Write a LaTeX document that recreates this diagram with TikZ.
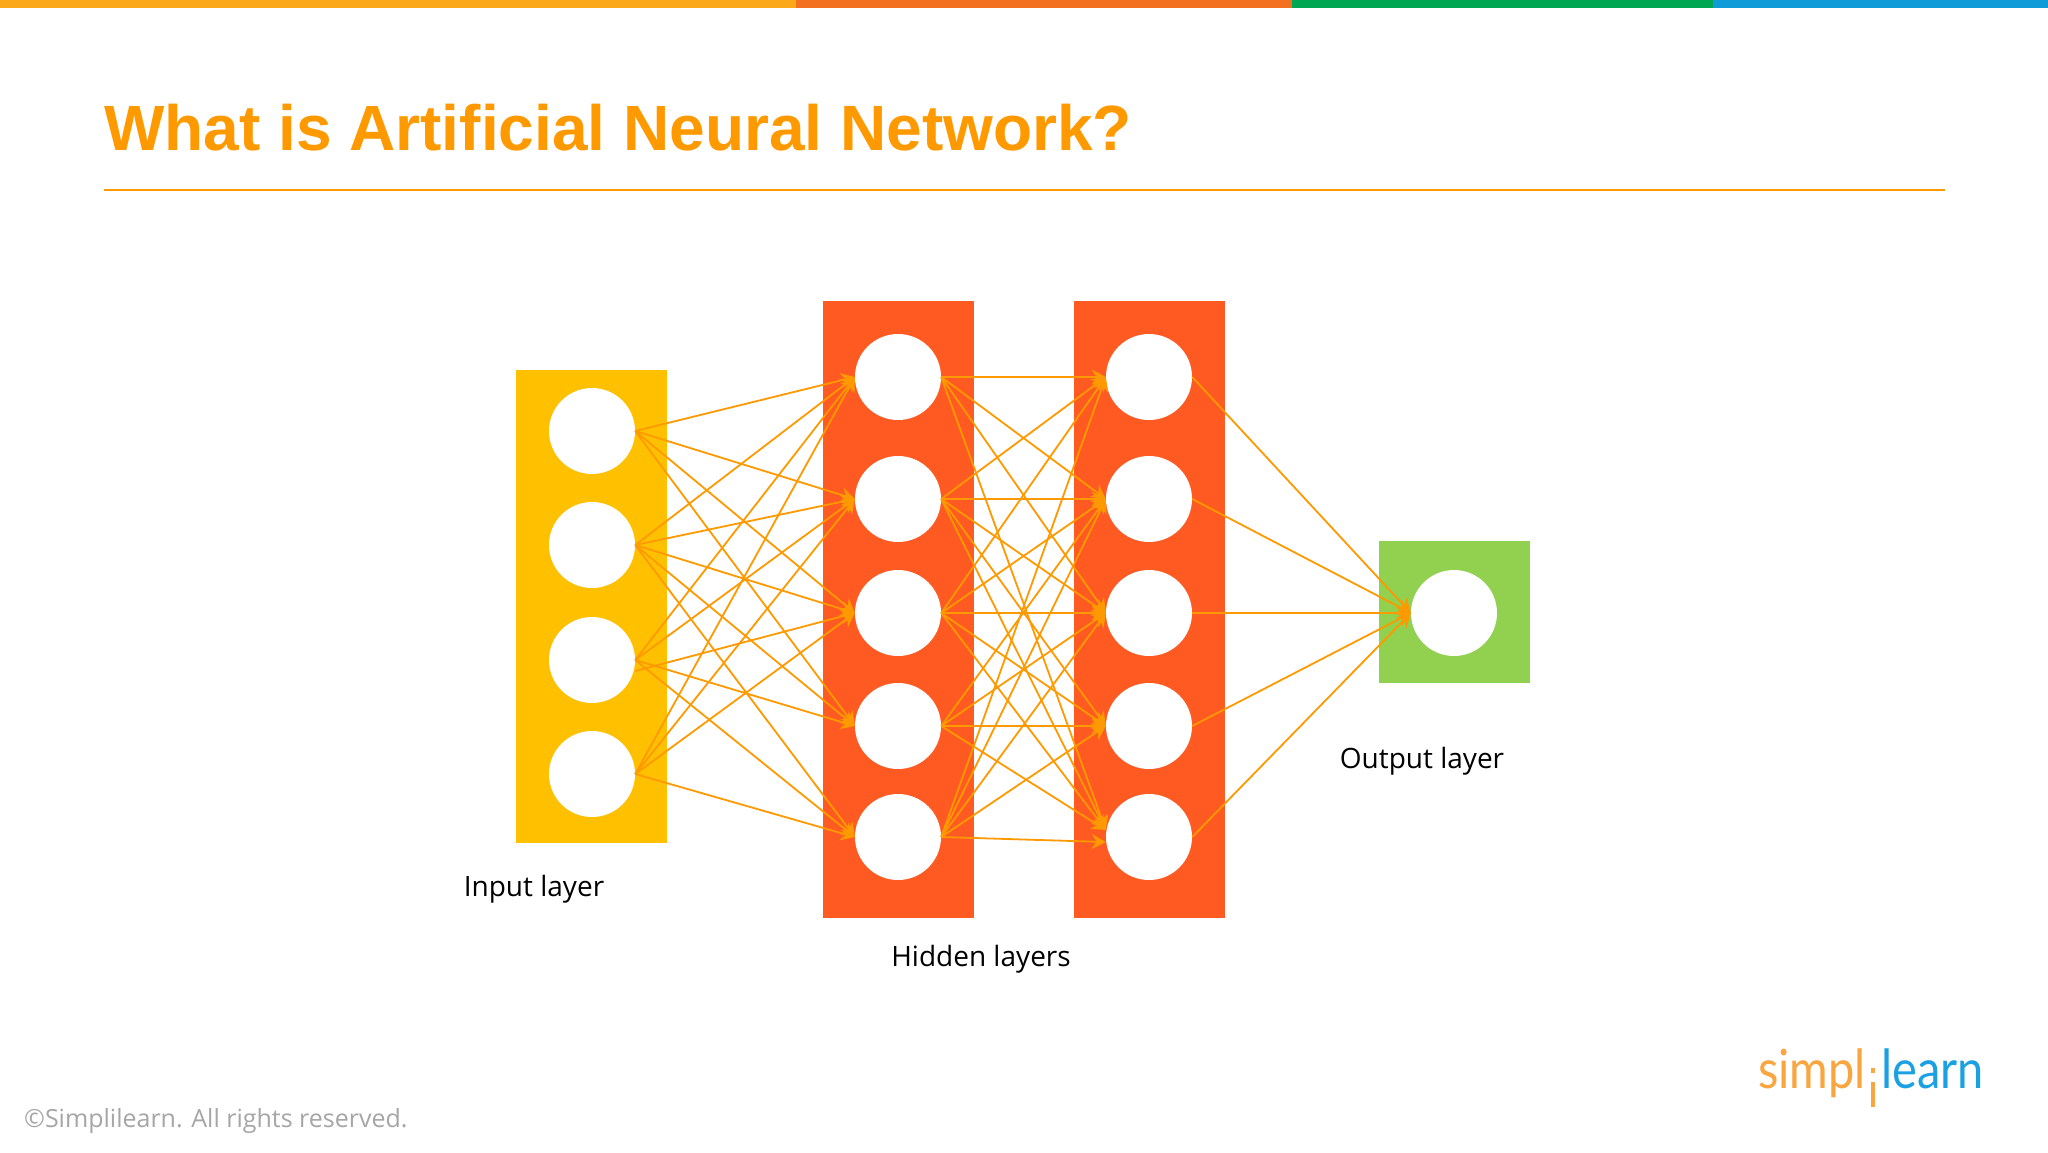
\documentclass[tikz,border=0pt]{standalone}
\usepackage{fontspec}
\usepackage{tikz}
\usetikzlibrary{arrows.meta}
\setmainfont{Open Sans}
\newfontfamily\titlefont{Liberation Sans}
\newfontfamily\logofont[FakeStretch=0.87]{Lato}
\definecolor{barone}{HTML}{FBA81B}
\definecolor{bartwo}{HTML}{F37021}
\definecolor{barthree}{HTML}{00A651}
\definecolor{barfour}{HTML}{0F9BD7}
\definecolor{titleorange}{HTML}{FF9900}
\definecolor{inputyellow}{HTML}{FFC000}
\definecolor{hiddenred}{HTML}{FF5A22}
\definecolor{outputgreen}{HTML}{92D050}
\definecolor{footgrey}{HTML}{A6A6A6}
\definecolor{logoorange}{HTML}{F9A540}
\definecolor{logoblue}{HTML}{1BA1E2}
\tikzset{
    layer/.style={shape=rectangle, inner sep=0pt, minimum width=151pt},
    neuron/.style={shape=circle, fill=white, inner sep=0pt, minimum size=86pt},
    link/.style={-{Stealth[length=14pt,width=15pt]}, color=titleorange, line width=1.8pt},
    tag/.style={inner sep=0pt, text=black, font=\fontsize{28}{32}\selectfont}
}

\begin{document}
\begin{tikzpicture}[x=1pt,y=-1pt]
        \path[use as bounding box, fill=white] (0,0) rectangle (2048,1152);
        %top bar
        \fill[barone] (0,0) rectangle (796,8);
        \fill[bartwo] (796,0) rectangle (1292,8);
        \fill[barthree] (1292,0) rectangle (1713,8);
        \fill[barfour] (1713,0) rectangle (2048,8);
        %title and its rule
        \node[anchor=base west, inner sep=0pt, text=titleorange, font=\titlefont\bfseries\fontsize{64}{70}\selectfont] (title) at (104,150) {What is Artificial Neural Network?};
        \draw[titleorange, line width=2pt] (104,190) -- (1945,190);
        %layer bands
        \node[layer, fill=inputyellow, minimum height=473pt] (in) at (591.5,606.5) {};
        \node[layer, fill=hiddenred, minimum height=617pt] (hid_1) at (898,609.5) {};
        \node[layer, fill=hiddenred, minimum height=617pt] (hid_2) at (1149,609.5) {};
        \node[layer, fill=outputgreen, minimum height=142pt] (out) at (1454,612) {};
        %input neurons
        \node[neuron] (i_1) at (592,431) {};
        \node[neuron] (i_2) at (592,545) {};
        \node[neuron] (i_3) at (592,660) {};
        \node[neuron] (i_4) at (592,774) {};
        %first hidden neurons
        \node[neuron] (h_1) at (898,377) {};
        \node[neuron] (h_2) at (898,499) {};
        \node[neuron] (h_3) at (898,613) {};
        \node[neuron] (h_4) at (898,726) {};
        \node[neuron] (h_5) at (898,837) {};
        %second hidden neurons
        \node[neuron] (k_1) at (1149,377) {};
        \node[neuron] (k_2) at (1149,499) {};
        \node[neuron] (k_3) at (1149,613) {};
        \node[neuron] (k_4) at (1149,726) {};
        \node[neuron] (k_5) at (1149,837) {};
        %output neuron
        \node[neuron] (o) at (1454,613) {};
        %adjacents of i_1
        \path[link] (i_1.east) edge (h_1.west);
        \path[link] (i_1.east) edge (h_2.west);
        \path[link] (i_1.east) edge (h_3.west);
        \path[link] (i_1.east) edge (h_4.west);
        %adjacents of i_2
        \path[link] (i_2.east) edge (h_1.west);
        \path[link] (i_2.east) edge (h_2.west);
        \path[link] (i_2.east) edge (h_3.west);
        \path[link] (i_2.east) edge (h_4.west);
        \path[link] (i_2.east) edge (h_5.west);
        %adjacents of i_3
        \path[link] (i_3.east) edge (h_1.west);
        \path[link] (i_3.east) edge (h_2.west);
        \path[link] ([yshift=-11pt]i_3.east) edge (h_3.west);
        \path[link] (i_3.east) edge (h_4.west);
        \path[link] (i_3.east) edge (h_5.west);
        %adjacents of i_4
        \path[link] (i_4.east) edge (h_1.west);
        \path[link] (i_4.east) edge (h_2.west);
        \path[link] (i_4.east) edge (h_3.west);
        \path[link] (i_4.east) edge (h_5.west);
        %adjacents of h_1
        \path[link] (h_1.east) edge (k_1.west);
        \path[link] (h_1.east) edge (k_2.west);
        \path[link] (h_1.east) edge (k_3.west);
        \path[link] (h_1.east) edge ([yshift=7pt]k_5.west);
        %adjacents of h_2
        \path[link] (h_2.east) edge (k_1.west);
        \path[link] (h_2.east) edge (k_2.west);
        \path[link] (h_2.east) edge (k_3.west);
        \path[link] (h_2.east) edge (k_4.west);
        \path[link] (h_2.east) edge ([yshift=7pt]k_5.west);
        %adjacents of h_3
        \path[link] (h_3.east) edge (k_1.west);
        \path[link] (h_3.east) edge (k_2.west);
        \path[link] (h_3.east) edge (k_3.west);
        \path[link] (h_3.east) edge (k_4.west);
        \path[link] (h_3.east) edge ([yshift=7pt]k_5.west);
        %adjacents of h_4
        \path[link] (h_4.east) edge (k_2.west);
        \path[link] (h_4.east) edge (k_3.west);
        \path[link] (h_4.east) edge (k_4.west);
        \path[link] (h_4.east) edge ([yshift=7pt]k_5.west);
        %adjacents of h_5
        \path[link] (h_5.east) edge (k_1.west);
        \path[link] (h_5.east) edge (k_2.west);
        \path[link] (h_5.east) edge (k_3.west);
        \path[link] (h_5.east) edge (k_4.west);
        \path[link] (h_5.east) edge ([yshift=-5pt]k_5.west);
        %adjacents of o
        \path[link] (k_1.east) edge (o.west);
        \path[link] (k_2.east) edge (o.west);
        \path[link] (k_3.east) edge (o.west);
        \path[link] (k_4.east) edge (o.west);
        \path[link] (k_5.east) edge (o.west);
        %layer labels
        \node[tag] (inlabel) at (534,889) {Input layer};
        \node[tag] (hidlabel) at (981,959) {Hidden layers};
        \node[tag] (outlabel) at (1422,761) {Output layer};
        %footer and logo
        \node[anchor=west, inner sep=0pt, text=footgrey, font=\fontsize{25}{30}\selectfont] (foot) at (24,1121) {©Simplilearn. All rights reserved.};
        \node[anchor=base east, inner sep=0pt, text=logoorange, font=\logofont\fontsize{54}{60}\selectfont] (simpl) at (1866,1088) {simpl};
        \node[anchor=base west, inner sep=0pt, text=logoblue, font=\logofont\fontsize{54}{60}\selectfont] (learn) at (1881,1088) {learn};
        \fill[logoorange] (1871,1068) rectangle (1875,1073);
        \fill[logoorange] (1871,1082) rectangle (1875,1107);
\end{tikzpicture}
\end{document}
